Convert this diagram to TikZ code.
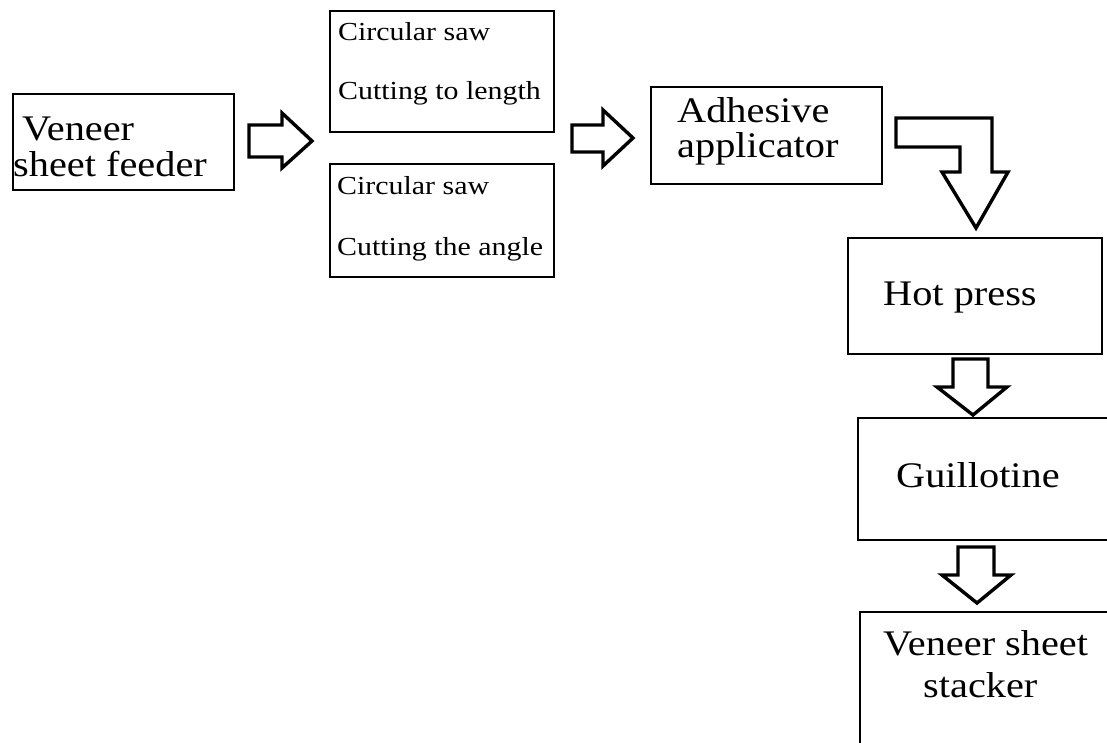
\documentclass[tikz,border=0pt]{standalone}
\usepackage{fontspec}
\setmainfont{Liberation Serif}
\newfontfamily\diagfont[FakeStretch=1.12]{Liberation Serif}
\newfontfamily\smallfont[FakeStretch=1.15]{Liberation Serif}
\tikzset{
  box/.style={draw=black, line width=2.2pt, rectangle, inner sep=0pt, anchor=north west},
  bigtxt/.style={anchor=base west, inner sep=0pt, font=\diagfont\fontsize{36}{36}\selectfont},
  smalltxt/.style={anchor=base west, inner sep=0pt, font=\smallfont\fontsize{26}{26}\selectfont},
  blockarrow/.style={draw=black, line width=3.4pt, line join=miter, fill=white}
}
\begin{document}
\begin{tikzpicture}[x=1pt,y=-1pt]
\useasboundingbox (0,0) rectangle (1107,743);
\clip (0,0) rectangle (1107,743);
\fill[white] (0,0) rectangle (1107,743);
% boxes
\node[box, minimum width=221pt, minimum height=96pt] (feeder) at (12,93) {};
\node[box, minimum width=224pt, minimum height=121pt] (saw1) at (329,10) {};
\node[box, minimum width=224pt, minimum height=113pt] (saw2) at (329,163) {};
\node[box, minimum width=231pt, minimum height=97pt] (adh) at (650,86) {};
\node[box, minimum width=254pt, minimum height=116pt] (press) at (847,237) {};
\node[box, line width=1.8pt, minimum width=300pt, minimum height=122pt] (guil) at (857,417) {};
\node[box, line width=2pt, minimum width=300pt, minimum height=200pt] (stack) at (859,611) {};
% texts
\node[bigtxt] (t1a) at (22,141) {Veneer};
\node[bigtxt] (t1b) at (13,177) {sheet feeder};
\node[smalltxt] (t2a) at (338,41) {Circular saw};
\node[smalltxt] (t2b) at (338,100) {Cutting to length};
\node[smalltxt] (t3a) at (337,195) {Circular saw};
\node[smalltxt] (t3b) at (337,255) {Cutting the angle};
\node[bigtxt] (t4a) at (677,123) {Adhesive};
\node[bigtxt] (t4b) at (677,158) {applicator};
\node[bigtxt] (t5) at (883,305) {Hot press};
\node[bigtxt] (t6) at (896,487) {Guillotine};
\node[bigtxt] (t7a) at (883,655) {Veneer sheet};
\node[bigtxt] (t7b) at (923,697) {stacker};
% block arrows
\draw[blockarrow] (249,125) -- (282,125) -- (282,113) -- (312,141) -- (282,168) -- (282,157) -- (249,157) -- cycle;
\draw[blockarrow] (572,125) -- (603,125) -- (603,110) -- (633,138) -- (603,166) -- (603,152) -- (572,152) -- cycle;
\draw[blockarrow] (896,118) -- (992,118) -- (992,172) -- (1008,172) -- (976,228) -- (942,172) -- (960,172) -- (960,147) -- (896,147) -- cycle;
\draw[blockarrow] (953,359) -- (988,359) -- (988,387) -- (1007,387) -- (973,415) -- (937,387) -- (953,387) -- cycle;
\draw[blockarrow] (958,547) -- (994,547) -- (994,575) -- (1011,575) -- (977,603) -- (942,575) -- (958,575) -- cycle;
\end{tikzpicture}
\end{document}
